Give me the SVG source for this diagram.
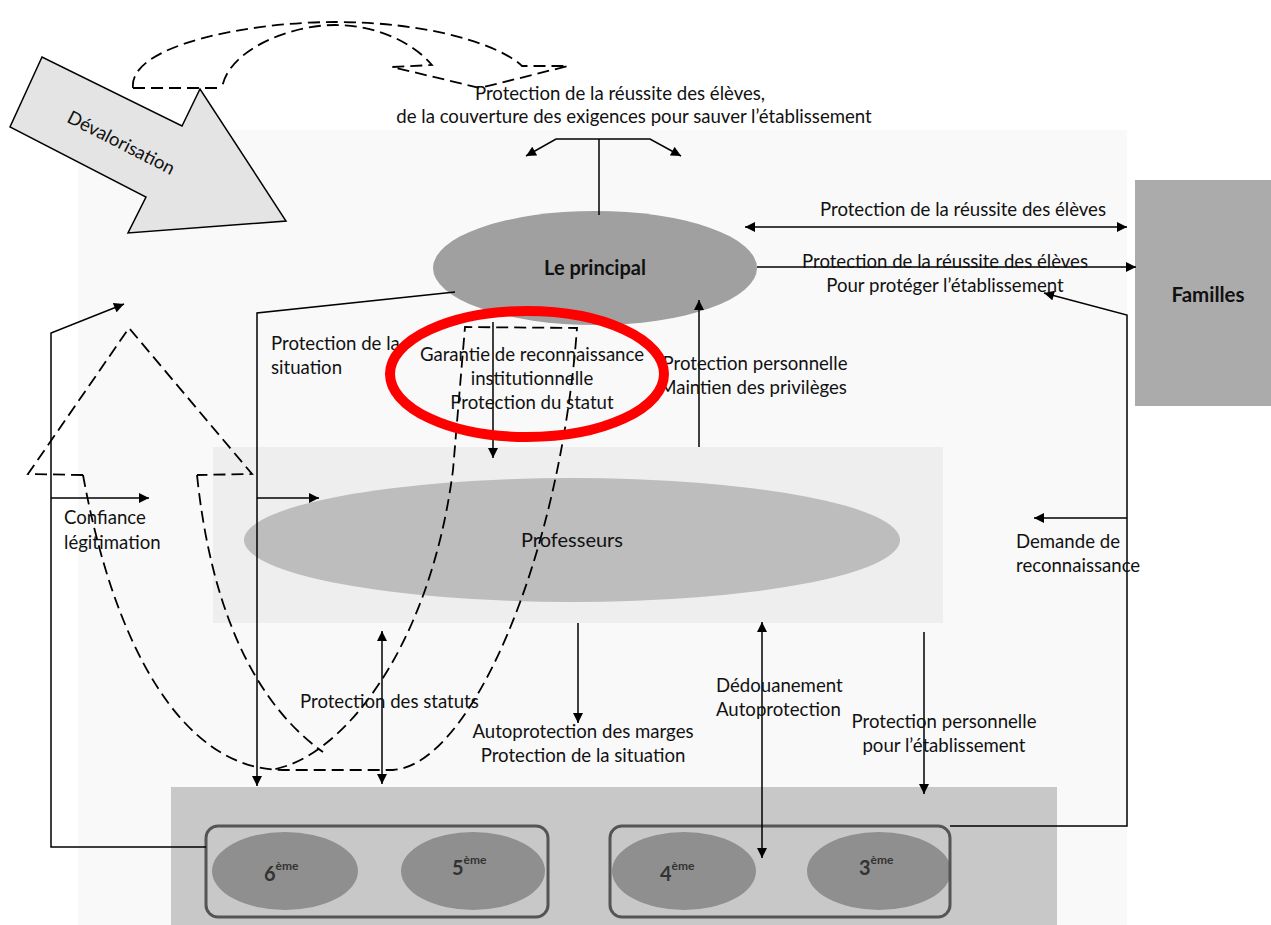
<svg xmlns="http://www.w3.org/2000/svg" width="1271" height="925" viewBox="0 0 1271 925">
<style>
.t{font-family:Lato,"Liberation Sans","DejaVu Sans",sans-serif;font-size:18.6px;fill:#111}
.c{text-anchor:middle}
.b{font-weight:bold}
.ln{fill:none;stroke:#000;stroke-width:1.5}
.ds{fill:none;stroke:#000;stroke-width:1.8;stroke-dasharray:12,6}
.g{font-family:Lato,"Liberation Sans",sans-serif;font-weight:bold;fill:#333;font-size:20px}
.sup{font-size:12px}
</style>
<defs>
<marker id="ah" viewBox="0 0 10 10" refX="10" refY="5" markerWidth="11" markerHeight="10" markerUnits="userSpaceOnUse" orient="auto-start-reverse"><path d="M0,0 L10,5 L0,10 z" fill="#000"/></marker>
</defs>
<rect width="1271" height="925" fill="#fff"/>
<rect id="fond" x="78" y="130" width="1049" height="795" fill="#f9f9f9"/>

<g id="devalorisation">
<polygon points="42,57 10,127 146,197 128,233 286,221 200,89 182,126" fill="#e4e4e4" stroke="#000" stroke-width="1.5"/>
<text class="t" x="121" y="149" text-anchor="middle" transform="rotate(27 121 143)">Dévalorisation</text>
</g>

<g id="professeurs">
<rect x="213" y="447" width="730" height="176" fill="#eeeeee"/>
<ellipse cx="572" cy="540" rx="328" ry="62" fill="#bdbdbd"/>
<text class="t c" x="572" y="547" style="font-size:20px">Professeurs</text>
</g>

<g id="principal">
<ellipse cx="595" cy="268" rx="162" ry="57" fill="#a0a0a0"/>
<text class="t c b" x="595" y="275" style="font-size:20px">Le principal</text>
</g>

<g id="familles">
<rect x="1135" y="180" width="136" height="226" fill="#ababab"/>
<text class="t c b" x="1208" y="302" style="font-size:20.5px">Familles</text>
</g>

<g id="eleves">
<rect x="171" y="787" width="886" height="138" fill="#c8c8c8"/>
</g>
<g id="cycle1">
<ellipse cx="285" cy="871" rx="73" ry="39" fill="#8f8f8f"/>
<ellipse cx="473" cy="871" rx="72" ry="39" fill="#8f8f8f"/>
<rect x="206" y="826" width="342" height="91" rx="12" fill="none" stroke="#555" stroke-width="3"/>
<text class="g" x="264" y="881">6<tspan class="sup" dy="-11">ème</tspan></text>
<text class="g" x="452" y="875">5<tspan class="sup" dy="-11">ème</tspan></text>
</g>
<g id="cycle2">
<ellipse cx="684" cy="871" rx="72" ry="39" fill="#8f8f8f"/>
<ellipse cx="879" cy="871" rx="72" ry="39" fill="#8f8f8f"/>
<rect x="610" y="826" width="340" height="91" rx="12" fill="none" stroke="#555" stroke-width="3"/>
<text class="g" x="660" y="881">4<tspan class="sup" dy="-11">ème</tspan></text>
<text class="g" x="859" y="875">3<tspan class="sup" dy="-11">ème</tspan></text>
</g>

<g id="connecteurs">
<line class="ln" x1="599" y1="215" x2="599" y2="139"/>
<path class="ln" d="M526,156 L556,139 L650,139 L681,156" marker-start="url(#ah)" marker-end="url(#ah)"/>
<line class="ln" x1="745" y1="227" x2="1127" y2="227" marker-start="url(#ah)" marker-end="url(#ah)"/>
<line class="ln" x1="757" y1="267" x2="1136" y2="267" marker-end="url(#ah)"/>
<path class="ln" d="M950,826 L1127,826 L1127,315 L1044,293" marker-end="url(#ah)"/>
<line class="ln" x1="1127" y1="518" x2="1034" y2="518" marker-end="url(#ah)"/>
<line class="ln" x1="699" y1="447" x2="699" y2="300" marker-end="url(#ah)"/>
<line class="ln" x1="493" y1="322" x2="493" y2="458" marker-end="url(#ah)"/>
<path class="ln" d="M455,292 L257,313 L257,786" marker-end="url(#ah)"/>
<line class="ln" x1="257" y1="498" x2="319" y2="498" marker-end="url(#ah)"/>
<path class="ln" d="M206,847 L51,847 L51,333 L124,304" marker-end="url(#ah)"/>
<line class="ln" x1="51" y1="498" x2="149" y2="498" marker-end="url(#ah)"/>
<line class="ln" x1="382" y1="631" x2="382" y2="784" marker-start="url(#ah)" marker-end="url(#ah)"/>
<line class="ln" x1="578" y1="623" x2="578" y2="723" marker-end="url(#ah)"/>
<line class="ln" x1="762" y1="622" x2="762" y2="858" marker-start="url(#ah)" marker-end="url(#ah)"/>
<line class="ln" x1="924" y1="632" x2="924" y2="794" marker-end="url(#ah)"/>
<!-- dashed top curved arrow -->
<path class="ds" d="M133,88 L222,88"/>
<path class="ds" d="M133,88 C128,45 250,22 335,22 C430,22 500,45 522,66 L568,66 L480,88 L392,67 L432,65 C415,45 380,25 335,25 C290,25 228,50 222,88"/>
<!-- dashed U arrow -->
<path class="ds" d="M83,475 L28,474 L129,328 L252,474 L197,475"/>
<path class="ds" d="M83,475 C113,640 180,770 283,770 L393,770 C470,765 560,560 577,328 L465,327 L453,470 C430,650 340,760 270,770"/>
<path class="ds" d="M197,475 C210,600 250,700 323,752"/>
</g>

<g id="etiquettes">
<text class="t c" x="620" y="100">Protection de la réussite des élèves,</text>
<text class="t c" x="634" y="123">de la couverture des exigences pour sauver l’établissement</text>
<text class="t c" x="963" y="216">Protection de la réussite des élèves</text>
<text class="t c" x="945" y="268">Protection de la réussite des élèves</text>
<text class="t c" x="945" y="292">Pour protéger l’établissement</text>
<text class="t" x="271" y="350">Protection de la</text>
<text class="t" x="271" y="374">situation</text>
<text class="t c" x="532" y="361">Garantie de reconnaissance</text>
<text class="t c" x="532" y="385">institutionnelle</text>
<text class="t c" x="532" y="409">Protection du statut</text>
<text class="t c" x="755" y="370">Protection personnelle</text>
<text class="t c" x="753" y="394">Maintien des privilèges</text>
<text class="t" x="64" y="524">Confiance</text>
<text class="t" x="64" y="549">légitimation</text>
<text class="t" x="1016" y="548">Demande de</text>
<text class="t" x="1016" y="572">reconnaissance</text>
<text class="t" x="300" y="708">Protection des statuts</text>
<text class="t c" x="583" y="738">Autoprotection des marges</text>
<text class="t c" x="583" y="762">Protection de la situation</text>
<text class="t" x="716" y="692">Dédouanement</text>
<text class="t" x="716" y="716">Autoprotection</text>
<text class="t c" x="944" y="728">Protection personnelle</text>
<text class="t c" x="944" y="752">pour l’établissement</text>
</g>

<g id="cercle-rouge">
<ellipse cx="527" cy="374" rx="137" ry="63" fill="none" stroke="#ff0000" stroke-width="10"/>
</g>
</svg>
